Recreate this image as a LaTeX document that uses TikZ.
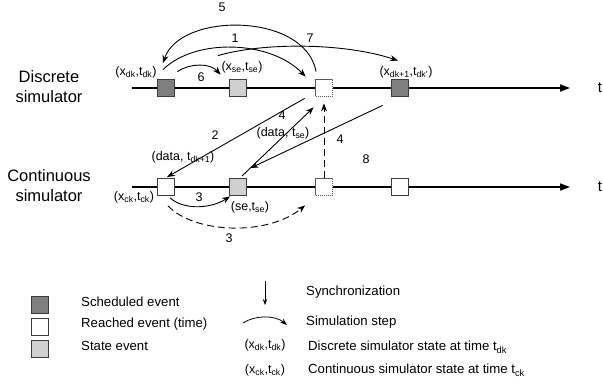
\documentclass[tikz,border=0pt]{standalone}
\usepackage{fontspec}
\setmainfont{Liberation Sans}
\usetikzlibrary{arrows.meta}
\newcommand\lsub[1]{\textsubscript{#1}}
\definecolor{schedgray}{RGB}{128,128,128}
\definecolor{stategray}{RGB}{208,208,208}
\definecolor{edgegray}{RGB}{60,60,60}
\begin{document}
\begin{tikzpicture}[x=1pt,y=-1pt,
  evt/.style={draw=edgegray, line width=0.8pt, minimum size=17pt, inner sep=0pt},
  sched/.style={evt, fill=schedgray},
  reach/.style={evt, fill=white},
  stat/.style={evt, fill=stategray},
  pend/.style={evt, fill=white, draw=black!65, dash pattern=on 1.2pt off 0.8pt},
  timeline/.style={line width=1.6pt, -{Triangle[length=10pt,width=7pt]}},
  flow/.style={line width=0.9pt, -{Stealth[length=8pt,width=6pt]}},
  lbl/.style={font=\fontsize{12.5}{14}\selectfont, inner sep=0pt},
  side/.style={font=\fontsize{16.5}{20}\selectfont, align=center, inner sep=0pt},
  legtxt/.style={font=\fontsize{13.2}{15}\selectfont, anchor=west, inner sep=0pt},
]
\useasboundingbox (0,0) rectangle (603,385);

% simulator names
\node[side] (dname) at (49,87) {Discrete\\simulator};
\node[side] (cname) at (49,186) {Continuous\\simulator};

% time axes
\coordinate (dstart) at (132,88);
\coordinate (dend) at (570,88);
\coordinate (cstart) at (132,187);
\coordinate (cend) at (570,187);
\draw[timeline] (dstart) -- (dend);
\draw[timeline] (cstart) -- (cend);
\node[side, font=\fontsize{15}{18}\selectfont] (dt) at (600,88) {t};
\node[side, font=\fontsize{15}{18}\selectfont] (ct) at (600,187) {t};

% events of the discrete simulator
\node[sched] (dk)    at (166,88) {};
\node[stat]  (se)    at (237.5,88) {};
\node[pend]  (dsync) at (324,88) {};
\node[sched] (dk1)   at (400,88) {};

% events of the continuous simulator
\node[reach] (ck)    at (166,187) {};
\node[stat]  (cse)   at (238,187) {};
\node[pend]  (csync) at (324,187) {};
\node[reach] (ck1)   at (400,187) {};

% state labels
\node[lbl] (ldk)  at (136,72) {(x\lsub{dk},t\lsub{dk})};
\node[lbl] (lse)  at (242,67) {(x\lsub{se},t\lsub{se})};
\node[lbl] (ldk1) at (406,72) {(x\lsub{dk+1},t\lsub{dk'})};
\node[lbl] (lck)  at (134,197) {(x\lsub{ck},t\lsub{ck})};
\node[lbl] (lcse) at (250,207) {(se,t\lsub{se})};

% step 5
\draw[flow] ([shift={(1,-7.5)}]dsync.north west) .. controls (305,12) and (180,12) .. ([shift={(-3,-16)}]dk.north);
\node[lbl] (n5) at (222,7) {5};
% step 1
\draw[flow] ([shift={(-3,-9.5)}]dk.north) .. controls (195,38) and (270,40) .. ([shift={(-9.5,-2.5)}]dsync.north west);
\node[lbl] (n1) at (235,38) {1};
% step 7
\draw[flow] ([shift={(-19.5,-23.5)}]se.north) .. controls (265,42) and (345,43) .. ([shift={(-2,-18.5)}]dk1.north);
\node[lbl] (n7) at (310,38) {7};
% step 6
\draw[flow] ([shift={(2.5,-7.5)}]dk.north east) .. controls (190,63) and (210,63) .. ([shift={(-8,-4.5)}]se.north west);
\node[lbl] (n6) at (201,77) {6};

% step 2
\draw[flow] ([shift={(-10.5,1.5)}]dsync.south west) -- ([shift={(1,-1)}]ck.north);
\node[lbl] (n2) at (215,135) {2};
\node[lbl] (d2) at (183,157) {(data, t\lsub{dk+1})};

% step 4, state event sent up
\draw[flow] ([shift={(-5,-2)}]cse.north east) -- ([shift={(-1.5,10.5)}]dsync.south west);
\node[lbl] (n4a) at (282,115) {4};
\node[lbl] (d4)  at (283,133) {(data, t\lsub{se})};

% step 4, back to the state event
\draw[flow] ([shift={(-8.5,8.5)}]dk1.south west) -- ([shift={(3.5,-10)}]cse.north east);
\node[lbl] (n4b) at (340,139) {4};

% step 8, synchronization
\draw[flow, dash pattern=on 7pt off 4pt] (csync.north) -- ([yshift=-6.5pt]dsync.south);
\node[lbl] (n8) at (366,159) {8};

% step 3, continuous steps
\draw[flow] ([shift={(4,2)}]ck.south) .. controls (185,211) and (212,208) .. ([shift={(1,0.5)}]cse.south west);
\node[lbl] (n3a) at (199,197) {3};
\draw[flow, dash pattern=on 7pt off 4pt] ([shift={(2,10)}]ck.south) .. controls (195,234) and (268,236) .. ([shift={(-10,9.5)}]csync.south west);
\node[lbl] (n3b) at (229,238) {3};

% legend
\node[sched] (lgS) at (40,304.5) {};
\node[reach] (lgR) at (40,326.5) {};
\node[stat]  (lgT) at (40,348.5) {};
\node[legtxt] (lgSt) at (81,302) {Scheduled event};
\node[legtxt] (lgRt) at (81,324) {Reached event (time)};
\node[legtxt] (lgTt) at (81,346) {State event};

\coordinate (syA) at (265,281);
\coordinate (syB) at (265,305);
\draw[flow, line width=0.8pt, -{Stealth[length=6pt,width=4.5pt]}] (syA) -- (syB);
\node[legtxt] (lsync) at (306,292) {Synchronization};

\coordinate (stA) at (243,323);
\coordinate (stB) at (287,325);
\draw[flow, line width=0.8pt, -{Stealth[length=7pt,width=5pt]}] (stA) .. controls (255,315) and (275,315) .. (stB);
\node[legtxt] (lstep) at (306,322) {Simulation step};

\node[lbl] (lgdk) at (265,345) {(x\lsub{dk},t\lsub{dk})};
\node[legtxt] (lgdkt) at (308,347) {Discrete simulator state at time t\lsub{dk}};
\node[lbl] (lgck) at (265,370) {(x\lsub{ck},t\lsub{ck})};
\node[legtxt] (lgckt) at (308,370) {Continuous simulator state at time t\lsub{ck}};
\end{tikzpicture}
\end{document}
